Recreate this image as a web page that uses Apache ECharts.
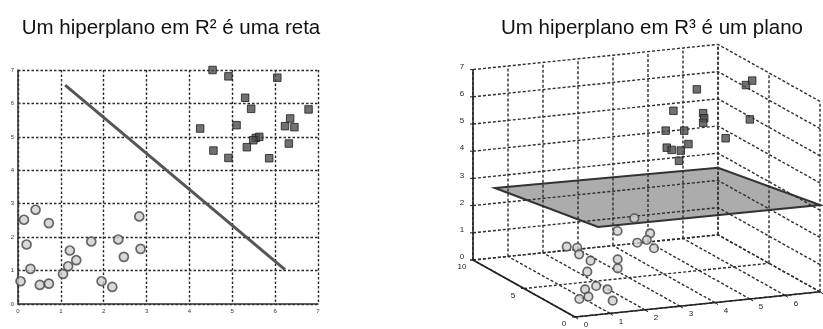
<!DOCTYPE html>
<html>
<head>
<meta charset="utf-8">
<title>Hiperplanos</title>
<script src="https://cdn.jsdelivr.net/npm/echarts/dist/echarts.min.js"></script>
<style>
  html, body { margin: 0; padding: 0; background: #fff; }
  #chart { width: 823px; height: 329px; }
</style>
</head>
<body>
<div id="chart"></div>
<script>
// ---- text ----
const title2D = 'Um hiperplano em R² é uma reta';
const title3D = 'Um hiperplano em R³ é um plano';

// ---- 2D panel data ----
const ticks2D = [0, 1, 2, 3, 4, 5, 6, 7];
const circles2D = [
  [0.14, 2.52], [0.41, 2.82], [0.72, 2.42], [0.20, 1.78], [0.29, 1.05],
  [0.06, 0.68], [0.51, 0.57], [0.72, 0.61], [1.05, 0.90], [1.17, 1.13],
  [1.36, 1.31], [1.21, 1.60], [1.71, 1.87], [1.95, 0.68], [2.20, 0.51],
  [2.34, 1.93], [2.47, 1.41], [2.83, 2.62], [2.86, 1.65]
];
const squares2D = [
  [4.54, 7.00], [4.91, 6.81], [6.05, 6.77], [5.30, 6.17], [5.44, 5.84],
  [6.78, 5.82], [4.25, 5.25], [5.10, 5.35], [6.35, 5.55], [6.23, 5.32],
  [6.45, 5.29], [5.55, 4.97], [5.63, 5.00], [5.49, 4.90], [5.34, 4.69],
  [6.32, 4.80], [4.56, 4.59], [4.91, 4.37], [5.86, 4.36]
];
const separatingLine2D = [[1.10, 6.55], [6.23, 1.03]];

// ---- 3D panel data ----
const xTicks3D = [0, 1, 2, 3, 4, 5, 6, 7];
const yTicks3D = [0, 5, 10];
const zTicks3D = [0, 1, 2, 3, 4, 5, 6, 7];
const circles3D = [
  [1.66, 6.51, 1.0], [1.87, 6.20, 1.0], [1.75, 5.60, 0.9], [1.75, 4.48, 0.9],
  [1.43, 3.70, 0.7], [2.98, 6.05, 1.5], [2.58, 4.67, 0.8], [2.43, 4.15, 0.6],
  [3.58, 6.47, 1.8], [3.90, 6.02, 1.3], [3.65, 5.48, 1.2], [3.30, 5.22, 1.2],
  [3.70, 4.95, 1.0], [1.38, 2.66, 0.4], [0.97, 2.34, 0.4], [1.51, 2.00, 0.4],
  [0.85, 1.60, 0.3], [0.53, 1.39, 0.3], [1.38, 1.04, 0.2]
];
const squares3D = [
  [5.23, 6, 6.42], [4.56, 6, 5.72], [5.41, 6, 5.52], [5.44, 6, 5.33],
  [5.41, 6, 5.17], [4.34, 6, 5.02], [4.87, 6, 4.95], [5.47, 4, 5.01],
  [4.37, 6, 4.39], [4.51, 6, 4.29], [4.77, 6, 4.23], [4.99, 6, 4.44],
  [4.72, 6, 3.86], [6.34, 5, 6.64], [6.52, 5, 6.78], [5.87, 3, 5.86]
];
const planeCorners3D = [
  [0.00, 7.84, 3.10], [6.37, 7.84, 3.00], [7.00, 0.00, 3.19], [0.66, 0.00, 3.22]
];

// ---- 3D view: screen displacement of one data unit along each axis ----
const viewX = [35.0, 3.6];
const viewY = [-10.2, 5.7];
const viewZ = [0.0, 27.2];
function project(p) {
  return [
    p[0] * viewX[0] + p[1] * viewY[0] + p[2] * viewZ[0],
    p[0] * viewX[1] + p[1] * viewY[1] + p[2] * viewZ[1]
  ];
}

const xMin = xTicks3D[0], xMax = xTicks3D[xTicks3D.length - 1];
const yMin = yTicks3D[0], yMax = yTicks3D[yTicks3D.length - 1];
const zMin = zTicks3D[0], zMax = zTicks3D[zTicks3D.length - 1];

// grid lines on the two back walls and the floor
const gridSegments = [];
xTicks3D.forEach(x => gridSegments.push([x, yMax, zMin, x, yMax, zMax]));
zTicks3D.forEach(z => gridSegments.push([xMin, yMax, z, xMax, yMax, z]));
yTicks3D.forEach(y => gridSegments.push([xMax, y, zMin, xMax, y, zMax]));
zTicks3D.forEach(z => gridSegments.push([xMax, yMin, z, xMax, yMax, z]));
xTicks3D.forEach(x => gridSegments.push([x, yMin, zMin, x, yMax, zMin]));
yTicks3D.forEach(y => gridSegments.push([xMin, y, zMin, xMax, y, zMin]));

// solid axis lines
const axisSegments = [
  [xMin, yMax, zMin, xMin, yMax, zMax],
  [xMin, yMax, zMin, xMin, yMin, zMin],
  [xMin, yMin, zMin, xMax, yMin, zMin]
];

// tick labels: anchor point, text, pixel offset, tick mark direction
const tickLabels3D = [];
xTicks3D.forEach(t => tickLabels3D.push({ p: [t, yMin, zMin], text: String(t), off: [11, 8], tick: [3, 2] }));
yTicks3D.forEach(t => tickLabels3D.push({ p: [xMin, t, zMin], text: String(t), off: [-11, 7], tick: [-3, 0] }));
zTicks3D.forEach(t => tickLabels3D.push({ p: [xMin, yMax, t], text: String(t), off: [-11, -3], tick: [-3, 0] }));

const dashed = [2.5, 2];
const titleStyle = { fontFamily: 'Liberation Sans', fontSize: 20.5, fontWeight: 'normal', color: '#111' };

const chart = echarts.init(document.getElementById('chart'), null, { renderer: 'canvas' });

const option = {
  backgroundColor: '#ffffff',
  animation: false,
  title: [
    { text: title2D, left: 166, top: 13, textAlign: 'center', textStyle: titleStyle },
    { text: title3D, left: 647, top: 13, textAlign: 'center', textStyle: titleStyle }
  ],
  grid: [
    { left: 18, top: 70, width: 300, height: 234 },
    { left: 440, top: 35, width: 383, height: 294 }
  ],
  xAxis: [
    {
      gridIndex: 0, type: 'value', min: ticks2D[0], max: ticks2D[ticks2D.length - 1], interval: 1,
      axisLine: { lineStyle: { color: '#333', width: 1.6 } },
      axisTick: { show: false },
      axisLabel: { fontSize: 6, color: '#333', margin: 4, fontFamily: 'Liberation Sans' },
      splitLine: { show: true, lineStyle: { type: dashed, color: '#2a2a2a', width: 1.4 } }
    },
    { gridIndex: 1, type: 'value', min: -135, max: 248, show: false, splitLine: { show: false } }
  ],
  yAxis: [
    {
      gridIndex: 0, type: 'value', min: ticks2D[0], max: ticks2D[ticks2D.length - 1], interval: 1,
      axisLine: { show: true, lineStyle: { color: '#333', width: 1.6 } },
      axisTick: { show: false },
      axisLabel: { fontSize: 6, color: '#333', margin: 4, fontFamily: 'Liberation Sans' },
      splitLine: { show: true, lineStyle: { type: dashed, color: '#2a2a2a', width: 1.4 } }
    },
    { gridIndex: 1, type: 'value', min: -12, max: 282, show: false, splitLine: { show: false } }
  ],
  series: [
    // 2D panel
    {
      name: 'reta', type: 'line', xAxisIndex: 0, yAxisIndex: 0,
      data: separatingLine2D, symbol: 'none', z: 3,
      lineStyle: { color: '#555', width: 3 }
    },
    {
      name: 'classe A', type: 'scatter', xAxisIndex: 0, yAxisIndex: 0,
      data: circles2D, symbol: 'circle', symbolSize: 9, z: 4,
      itemStyle: { color: '#cfcfcf', borderColor: '#444', borderWidth: 1.7 }
    },
    {
      name: 'classe B', type: 'scatter', xAxisIndex: 0, yAxisIndex: 0,
      data: squares2D, symbol: 'rect', symbolSize: 7.5, z: 4,
      itemStyle: { color: '#4d4d4d', borderColor: '#1e1e1e', borderWidth: 1 }
    },
    // 3D panel: plane
    {
      name: 'plano', type: 'custom', xAxisIndex: 1, yAxisIndex: 1, z: 1, clip: false,
      data: [0],
      renderItem: (params, api) => ({
        type: 'polygon',
        shape: { points: planeCorners3D.map(c => api.coord(project(c))) },
        style: { fill: '#acacac', stroke: '#333', lineWidth: 2 }
      })
    },
    // 3D panel: dashed grid
    {
      name: 'grade', type: 'custom', xAxisIndex: 1, yAxisIndex: 1, z: 2, clip: false,
      data: gridSegments,
      renderItem: (params, api) => {
        const a = api.coord(project([api.value(0), api.value(1), api.value(2)]));
        const b = api.coord(project([api.value(3), api.value(4), api.value(5)]));
        return {
          type: 'line',
          shape: { x1: a[0], y1: a[1], x2: b[0], y2: b[1] },
          style: { stroke: '#2e2e2e', lineWidth: 1.4, lineDash: [3, 2] }
        };
      }
    },
    // 3D panel: solid axes
    {
      name: 'eixos', type: 'custom', xAxisIndex: 1, yAxisIndex: 1, z: 3, clip: false,
      data: axisSegments,
      renderItem: (params, api) => {
        const a = api.coord(project([api.value(0), api.value(1), api.value(2)]));
        const b = api.coord(project([api.value(3), api.value(4), api.value(5)]));
        return {
          type: 'line',
          shape: { x1: a[0], y1: a[1], x2: b[0], y2: b[1] },
          style: { stroke: '#222', lineWidth: 1.6 }
        };
      }
    },
    // 3D panel: ticks and tick labels
    {
      name: 'rótulos', type: 'custom', xAxisIndex: 1, yAxisIndex: 1, z: 3, clip: false,
      data: tickLabels3D.map(l => l.p),
      renderItem: (params, api) => {
        const l = tickLabels3D[params.dataIndex];
        const c = api.coord(project(l.p));
        return {
          type: 'group',
          children: [
            {
              type: 'line',
              shape: { x1: c[0], y1: c[1], x2: c[0] + l.tick[0], y2: c[1] + l.tick[1] },
              style: { stroke: '#222', lineWidth: 1 }
            },
            {
              type: 'text',
              x: c[0] + l.off[0], y: c[1] + l.off[1],
              style: {
                text: l.text, fill: '#222', fontSize: 8, fontFamily: 'Liberation Sans',
                align: 'center', verticalAlign: 'middle'
              }
            }
          ]
        };
      }
    },
    // 3D panel: samples
    {
      name: 'classe A 3D', type: 'scatter', xAxisIndex: 1, yAxisIndex: 1, z: 4,
      data: circles3D.map(project), symbol: 'circle', symbolSize: 8.5,
      itemStyle: { color: '#cfcfcf', borderColor: '#444', borderWidth: 1.7 }
    },
    {
      name: 'classe B 3D', type: 'scatter', xAxisIndex: 1, yAxisIndex: 1, z: 4,
      data: squares3D.map(project), symbol: 'rect', symbolSize: 7.5,
      itemStyle: { color: '#4d4d4d', borderColor: '#1e1e1e', borderWidth: 1 }
    }
  ]
};

chart.setOption(option);
</script>
</body>
</html>
